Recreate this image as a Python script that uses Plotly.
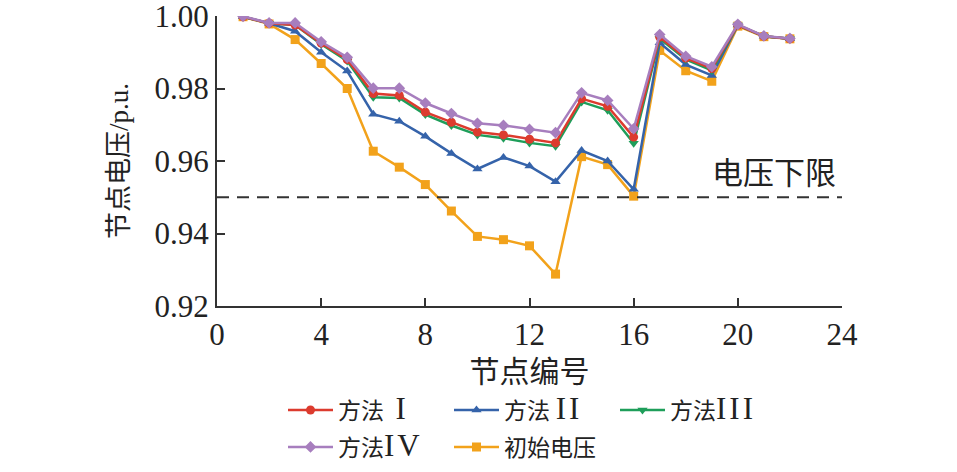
import plotly.graph_objects as go

nodes = list(range(1, 23))

v_method1 = [0.9998, 0.9980, 0.9975, 0.9925, 0.9880, 0.9786, 0.9781, 0.9735, 0.9707, 0.9680, 0.9672,
             0.9660, 0.9650, 0.9772, 0.9751, 0.9666, 0.9942, 0.9884, 0.9855, 0.9975, 0.9944, 0.9937]
v_method2 = [0.9998, 0.9980, 0.9958, 0.9900, 0.9848, 0.9729, 0.9710, 0.9668, 0.9621, 0.9578, 0.9610,
             0.9586, 0.9543, 0.9629, 0.9600, 0.9522, 0.9926, 0.9866, 0.9836, 0.9975, 0.9944, 0.9937]
v_method3 = [0.9998, 0.9980, 0.9975, 0.9922, 0.9876, 0.9776, 0.9774, 0.9728, 0.9698, 0.9672, 0.9663,
             0.9650, 0.9641, 0.9763, 0.9740, 0.9649, 0.9938, 0.9880, 0.9850, 0.9975, 0.9944, 0.9937]
v_method4 = [0.9999, 0.9981, 0.9981, 0.9929, 0.9886, 0.9801, 0.9801, 0.9760, 0.9731, 0.9704, 0.9698,
             0.9687, 0.9678, 0.9788, 0.9767, 0.9689, 0.9949, 0.9889, 0.9860, 0.9977, 0.9945, 0.9938]
v_initial = [0.9998, 0.9978, 0.9935, 0.9869, 0.9800, 0.9627, 0.9583, 0.9535, 0.9462, 0.9392, 0.9383,
             0.9366, 0.9288, 0.9612, 0.9590, 0.9503, 0.9905, 0.9849, 0.9820, 0.9972, 0.9943, 0.9937]

v_limit = 0.95
x_ticks = [0, 4, 8, 12, 16, 20, 24]
y_ticks = [0.92, 0.94, 0.96, 0.98, 1.00]

FONT = "Liberation Serif, Times New Roman, Noto Sans CJK SC"


def roman(label, numeral, lead=""):
    return f"{label}{lead}<span style='font-size:31px;letter-spacing:3px'>{numeral}</span>"


series = [
    # (name, values, color, symbol, legendrank, legend id)
    ("初始电压", v_initial, "#F2A21B", "square", 5, "legend2"),
    (roman("方法", "II", " "), v_method2, "#3563AA", "triangle-up", 2, "legend"),
    (roman("方法", "III"), v_method3, "#1E9E5A", "triangle-down", 3, "legend"),
    (roman("方法", "I", "  "), v_method1, "#DC3B2E", "circle", 1, "legend"),
    (roman("方法", "IV"), v_method4, "#A77EBE", "diamond", 4, "legend2"),
]

fig = go.Figure()
for name, vals, color, sym, rank, lg in series:
    fig.add_trace(go.Scatter(
        x=nodes, y=vals, name=name, mode="lines+markers",
        line=dict(color=color, width=2.5),
        marker=dict(symbol=sym, size=9, color=color),
        legendrank=rank, legend=lg,
    ))

fig.add_shape(type="line", xref="x", yref="y", x0=0, x1=24.1, y0=v_limit, y1=v_limit,
              line=dict(color="#333333", width=2, dash="12px,8px"))
fig.add_annotation(x=23.85, y=0.9565, xref="x", yref="y", text="电压下限", showarrow=False,
                   xanchor="right", yanchor="middle", font=dict(family=FONT, size=31, color="#222222"))

legend_common = dict(
    orientation="h", xanchor="left", yanchor="middle",
    font=dict(family=FONT, size=23, color="#222222"),
    entrywidth=106, entrywidthmode="pixels", itemwidth=45,
    traceorder="normal", bgcolor="rgba(0,0,0,0)",
)

fig.update_layout(
    width=957, height=472,
    margin=dict(l=217, r=115, t=16, b=166, autoexpand=False),
    paper_bgcolor="white", plot_bgcolor="white",
    font=dict(family=FONT, color="#222222"),
    showlegend=True,
    legend=dict(x=0.1056, y=-0.3586, **legend_common),
    legend2=dict(x=0.1056, y=-0.486, **legend_common),
)
fig.update_xaxes(
    range=[0, 24], tickvals=x_ticks, ticks="inside", ticklen=8, tickwidth=2,
    tickcolor="#333333", showline=True, linecolor="#333333", linewidth=2,
    showgrid=False, zeroline=False, tickfont=dict(family=FONT, size=31),
    ticklabeloverflow="allow",
    title=dict(text="节点编号", font=dict(family=FONT, size=30), standoff=10),
)
fig.update_yaxes(
    range=[0.92, 1.00], tickvals=y_ticks, tickformat=".2f", ticks="inside", ticklen=8, tickwidth=2,
    tickcolor="#333333", showline=True, linecolor="#333333", linewidth=2,
    showgrid=False, zeroline=False, tickfont=dict(family=FONT, size=31),
    ticklabeloverflow="allow",
    title=dict(text="节点电压/p.u.", font=dict(family=FONT, size=27), standoff=18),
)

fig.write_html("out.html")
